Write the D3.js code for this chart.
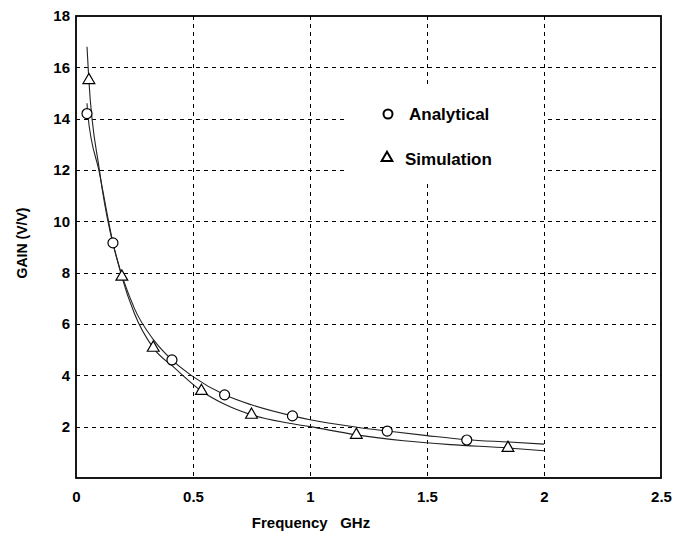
<!DOCTYPE html>
<html>
<head>
<meta charset="utf-8">
<script src="https://cdn.jsdelivr.net/npm/d3@7"></script>
<style>
  body { margin: 0; background: #fff; }
  svg { display: block; }
  text { font-family: "Liberation Sans", Arial, sans-serif; font-weight: bold; fill: #000; }
</style>
</head>
<body>
<svg id="chart" width="676" height="536"></svg>
<script>
// gain vs frequency, analytical model against simulation
const xTicks = [0, 0.5, 1, 1.5, 2, 2.5];
const yTicks = [2, 4, 6, 8, 10, 12, 14, 16, 18];

// marker points [GHz, V/V]
const analyticalPts = [[0.047, 14.2], [0.158, 9.16], [0.41, 4.6], [0.635, 3.24], [0.925, 2.42], [1.33, 1.83], [1.67, 1.48]];
const simulationPts = [[0.055, 15.5], [0.196, 7.84], [0.33, 5.07], [0.536, 3.39], [0.75, 2.46], [1.198, 1.68], [1.846, 1.17]];

// fitted curves drawn through the markers
const analyticalCurve = [[0.047, 14.6], [0.05, 14.2], [0.10, 11.9], [0.158, 9.16], [0.25, 6.6], [0.33, 5.4], [0.41, 4.6], [0.5, 3.95], [0.635, 3.24], [0.75, 2.85], [0.925, 2.42], [1.0, 2.27], [1.2, 1.98], [1.33, 1.83], [1.5, 1.65], [1.67, 1.49], [1.85, 1.4], [2.0, 1.32]];
const simulationCurve = [[0.047, 16.8], [0.055, 15.5], [0.10, 12.0], [0.196, 7.84], [0.25, 6.4], [0.33, 5.07], [0.42, 4.3], [0.536, 3.39], [0.64, 2.85], [0.75, 2.46], [0.9, 2.15], [1.0, 2.0], [1.198, 1.68], [1.4, 1.45], [1.6, 1.3], [1.846, 1.17], [2.0, 1.06]];

const plotL = 76, plotR = 661, plotT = 16, plotB = 478;

const svg = d3.select("#chart");

const x = d3.scaleLinear().domain([0, 2.5]).range([plotL, plotR]);
const y = d3.scaleLinear().domain([0, 18]).range([plotB, plotT]);

// dashed grid
const grid = svg.append("g").attr("stroke", "#000").attr("stroke-width", 1).attr("stroke-dasharray", "4,4");
grid.selectAll(".vg")
    .data(xTicks.filter(d => d > 0 && d < 2.5))
    .enter().append("line")
    .attr("x1", d => Math.round(x(d)) + 0.5).attr("x2", d => Math.round(x(d)) + 0.5)
    .attr("y1", plotT).attr("y2", plotB);
grid.selectAll(".hg")
    .data(yTicks.filter(d => d < 18))
    .enter().append("line")
    .attr("y1", d => Math.round(y(d)) + 0.5).attr("y2", d => Math.round(y(d)) + 0.5)
    .attr("x1", plotL).attr("x2", plotR);

// legend box sits over the grid
svg.append("rect")
    .attr("x", 346).attr("y", 88).attr("width", 198).attr("height", 94)
    .attr("fill", "#fff");

// frame
svg.append("rect")
    .attr("x", plotL).attr("y", plotT).attr("width", plotR - plotL).attr("height", plotB - plotT)
    .attr("fill", "none").attr("stroke", "#000").attr("stroke-width", 1.8);

// axes (labels only)
const xAxis = svg.append("g")
    .attr("transform", `translate(0,${plotB})`)
    .call(d3.axisBottom(x).tickValues(xTicks).tickSize(0).tickPadding(13).tickFormat(d3.format("")));
xAxis.select(".domain").remove();
xAxis.selectAll("text").attr("font-size", 15).attr("font-family", null);

const yAxis = svg.append("g")
    .attr("transform", `translate(${plotL},0)`)
    .call(d3.axisLeft(y).tickValues(yTicks).tickSize(0).tickPadding(6));
yAxis.select(".domain").remove();
yAxis.selectAll("text").attr("font-size", 15).attr("font-family", null);

svg.append("text")
    .attr("x", 311).attr("y", 528)
    .attr("text-anchor", "middle").attr("font-size", 15)
    .attr("xml:space", "preserve")
    .text("Frequency   GHz");

svg.append("text")
    .attr("transform", "translate(27,243) rotate(-90)")
    .attr("text-anchor", "middle").attr("font-size", 14)
    .text("GAIN (V/V)");

// curves
const line = d3.line()
    .x(d => x(d[0])).y(d => y(d[1]))
    .curve(d3.curveMonotoneX);

svg.append("path").datum(analyticalCurve)
    .attr("d", line).attr("fill", "none").attr("stroke", "#222").attr("stroke-width", 1.1);
svg.append("path").datum(simulationCurve)
    .attr("d", line).attr("fill", "none").attr("stroke", "#222").attr("stroke-width", 1.1);

// markers
const tri = d3.symbol().type(d3.symbolTriangle).size(60);

svg.selectAll(".circ")
    .data(analyticalPts)
    .enter().append("circle")
    .attr("cx", d => x(d[0])).attr("cy", d => y(d[1])).attr("r", 5)
    .attr("fill", "#fff").attr("stroke", "#000").attr("stroke-width", 1.2);

svg.selectAll(".tri")
    .data(simulationPts)
    .enter().append("path")
    .attr("d", tri)
    .attr("transform", d => `translate(${x(d[0])},${y(d[1])})`)
    .attr("fill", "#fff").attr("stroke", "#000").attr("stroke-width", 1.2);

// legend
svg.append("circle")
    .attr("cx", 388).attr("cy", 114).attr("r", 4.5)
    .attr("fill", "#fff").attr("stroke", "#000").attr("stroke-width", 2);
svg.append("text")
    .attr("x", 409).attr("y", 120).attr("font-size", 17)
    .text("Analytical");

svg.append("path")
    .attr("d", d3.symbol().type(d3.symbolTriangle).size(50))
    .attr("transform", "translate(387,158)")
    .attr("fill", "#fff").attr("stroke", "#000").attr("stroke-width", 2);
svg.append("text")
    .attr("x", 405).attr("y", 165).attr("font-size", 17)
    .text("Simulation");
</script>
</body>
</html>
